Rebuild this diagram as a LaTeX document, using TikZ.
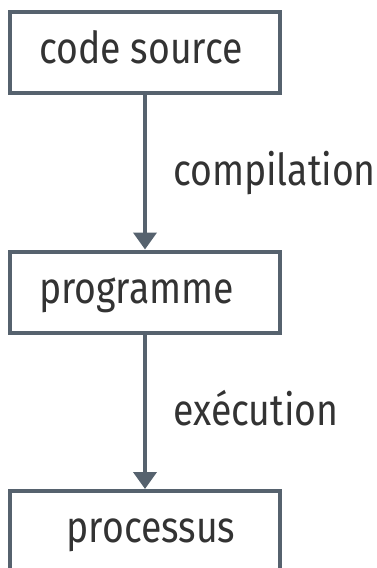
\documentclass[tikz,border=0pt]{standalone}
\usepackage{fontspec}
\setmainfont[FakeStretch=0.85]{Fira Sans}
\usetikzlibrary{arrows.meta}
\definecolor{edge}{RGB}{86,98,110}
\definecolor{ink}{RGB}{51,51,51}
\newcommand{\shifted}[2]{\hspace*{#1}#2\hspace*{-#1}}
\begin{document}
\begin{tikzpicture}[x=1pt,y=-1pt,
  box/.style={draw=edge, line width=4pt, fill=white, minimum width=270pt, minimum height=81pt,
    inner sep=0pt, text=ink, font=\fontsize{44}{50}\selectfont, text height=32pt, text depth=10pt},
  lbl/.style={anchor=base west, inner sep=0pt, text=ink, font=\fontsize{44}{50}\selectfont},
  flow/.style={draw=edge, line width=4pt, -{Triangle[length=17pt,width=23pt]}}]
\useasboundingbox (0,0) rectangle (377,568);
\clip (0,0) rectangle (377,568);
\node[box] (src) at (145,52.5) {\shifted{-4pt}{code source}};
\node[box] (prog) at (145,292) {\shifted{-8.5pt}{programme}};
\node[box] (proc) at (145,531.5) {\shifted{6pt}{processus}};
\draw[flow] (src) -- (prog);
\draw[flow] (prog) -- (proc);
\node[lbl] (comp) at (173,185) {compilation};
\node[lbl] (exec) at (173,425) {exécution};
\end{tikzpicture}
\end{document}
